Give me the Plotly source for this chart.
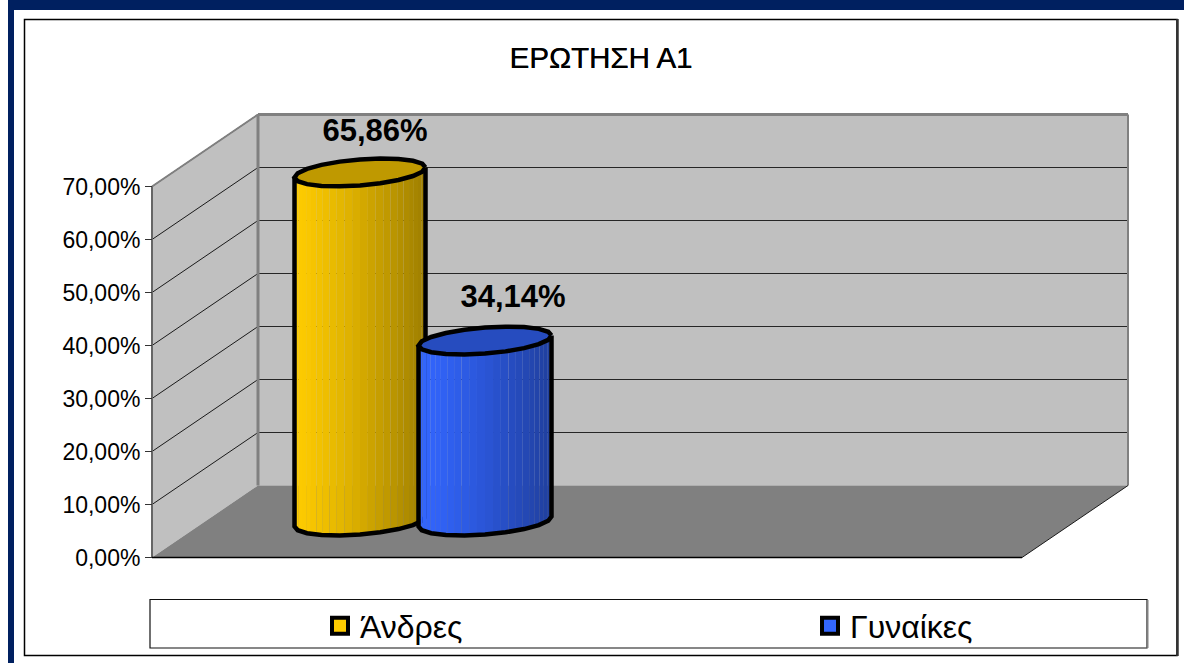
import math
import plotly.graph_objects as go

# Chart data
title_text = "ΕΡΩΤΗΣΗ Α1"
categories = ["Άνδρες", "Γυναίκες"]
shares = [65.86, 34.14]
share_labels = ["65,86%", "34,14%"]
tick_values = [0, 10, 20, 30, 40, 50, 60, 70]
tick_labels = ["0,00%", "10,00%", "20,00%", "30,00%", "40,00%", "50,00%", "60,00%", "70,00%"]

# Canvas and axis scale
W, H = 1184, 663
PX_PER_UNIT = 5.3
ZERO_PX = 557.5
y_top = ZERO_PX / PX_PER_UNIT
y_bottom = -(H - ZERO_PX) / PX_PER_UNIT

# Oblique box geometry
FRONT_LEFT, FRONT_RIGHT = 152, 1022
DEPTH_DX = 106
DEPTH_DV = 72 / PX_PER_UNIT
AXIS_MAX = tick_values[-1]

# Cylinder geometry
CENTERS = [360, 485]
SEMI_X = [65.5, 66.5]
SEMI_Y = 13 / PX_PER_UNIT
TILT = 5 / PX_PER_UNIT
MID_DEPTH = 0.5
SIDE_COLORS = [(255, 204, 0), (51, 102, 255)]
TOP_COLORS = ["#BF9900", "#264CBF"]
DARKEST = 0.62
SHADE_CURVE = 1.25
STRIPS = 26
OUTLINE_SEGMENTS = 10
LABEL_SHIFT = [(15, 39.5), (28, 41.5)]

# Legend placement, one box per entry
LEGEND_X = [320, 810]
LEGEND_KEYS = ["legend", "legend2"]

FONT = "Liberation Sans, Arial, sans-serif"


def project(x, v, depth=0.0):
    return x + DEPTH_DX * depth, v + DEPTH_DV * depth


def poly(points, fill, line_color=None, line_width=0):
    xs = [p[0] for p in points]
    ys = [p[1] for p in points]
    return go.Scatter(
        x=xs, y=ys, mode="lines", fill="toself", fillcolor=fill,
        line=dict(color=line_color or fill, width=line_width),
        hoverinfo="skip", showlegend=False,
    )


def segment(p, q, color, width):
    return go.Scatter(
        x=[p[0], q[0]], y=[p[1], q[1]], mode="lines",
        line=dict(color=color, width=width),
        hoverinfo="skip", showlegend=False,
    )


def rim(cx, cv, semi_x, t):
    return cx + semi_x * math.cos(t), cv + TILT * math.cos(t) - SEMI_Y * math.sin(t)


def px_x(x):
    return x / W


def px_y(y):
    return 1 - y / H


traces = []

# Walls and floor of the box
back = [project(FRONT_LEFT, 0, 1), project(FRONT_RIGHT, 0, 1),
        project(FRONT_RIGHT, AXIS_MAX, 1), project(FRONT_LEFT, AXIS_MAX, 1)]
side = [project(FRONT_LEFT, 0), project(FRONT_LEFT, 0, 1),
        project(FRONT_LEFT, AXIS_MAX, 1), project(FRONT_LEFT, AXIS_MAX)]
floor = [project(FRONT_LEFT, 0), project(FRONT_RIGHT, 0),
         project(FRONT_RIGHT, 0, 1), project(FRONT_LEFT, 0, 1)]
traces.append(poly(back, "#C0C0C0"))
traces.append(poly(side, "#C0C0C0"))
traces.append(poly(floor, "#808080"))

# Gridlines wrap from the side wall onto the back wall
for v in tick_values[1:]:
    traces.append(segment(project(FRONT_LEFT, v), project(FRONT_LEFT, v, 1), "#1A1A1A", 1))
    traces.append(segment(project(FRONT_LEFT, v, 1), project(FRONT_RIGHT, v, 1), "#262626", 1))

# Box edges
traces.append(segment(project(FRONT_LEFT, AXIS_MAX), project(FRONT_LEFT, AXIS_MAX, 1), "#808080", 2))
traces.append(segment(project(FRONT_LEFT, AXIS_MAX, 1.0), project(FRONT_RIGHT, AXIS_MAX, 1.0), "#808080", 3))
traces.append(segment(project(FRONT_LEFT, 0, 1), project(FRONT_LEFT, AXIS_MAX, 1), "#808080", 3))
traces.append(segment(project(FRONT_RIGHT, 0, 1), project(FRONT_RIGHT, AXIS_MAX, 1), "#808080", 2))
traces.append(segment(project(FRONT_LEFT, 0), project(FRONT_LEFT, AXIS_MAX), "#666666", 2))
traces.append(segment(project(FRONT_LEFT, 0), project(FRONT_RIGHT, 0), "#000000", 1.5))
traces.append(segment(project(FRONT_RIGHT, 0), project(FRONT_RIGHT, 0, 1), "#1A1A1A", 1))

# Cylinders, one per category, shaded left to right
for i, value in enumerate(shares):
    cx = CENTERS[i]
    sx = SEMI_X[i]
    base = project(0, 0, MID_DEPTH)[1]
    top = base + value
    steps = [math.pi * k / STRIPS for k in range(STRIPS + 1)]
    for a, b in zip(steps[:-1], steps[1:]):
        mid = (rim(cx, base, sx, a)[0] + rim(cx, base, sx, b)[0]) / 2
        k = 1 - (1 - DARKEST) * ((mid - cx + sx) / (2 * sx)) ** SHADE_CURVE
        r, g, bl = [int(c * k) for c in SIDE_COLORS[i]]
        pts = [rim(cx, base, sx, a), rim(cx, base, sx, b), rim(cx, top, sx, b), rim(cx, top, sx, a)]
        traces.append(poly(pts, f"rgb({r},{g},{bl})"))
    coarse = [math.pi * k / OUTLINE_SEGMENTS for k in range(OUTLINE_SEGMENTS + 1)]
    outline = [rim(cx, top, sx, 0)] + [rim(cx, base, sx, t) for t in coarse] + [rim(cx, top, sx, math.pi)]
    traces.append(go.Scatter(
        x=[p[0] for p in outline], y=[p[1] for p in outline], mode="lines",
        line=dict(color="#000000", width=4.5), hoverinfo="skip", showlegend=False,
    ))
    ring = [rim(cx, top, sx, math.pi * k / OUTLINE_SEGMENTS) for k in range(2 * OUTLINE_SEGMENTS + 1)]
    traces.append(poly(ring, TOP_COLORS[i], "#000000", 4.5))

# Value labels above each cylinder
for i, value in enumerate(shares):
    base = project(0, 0, MID_DEPTH)[1]
    traces.append(go.Scatter(
        x=[CENTERS[i] + LABEL_SHIFT[i][0]],
        y=[base + value + LABEL_SHIFT[i][1] / PX_PER_UNIT],
        mode="text", text=[share_labels[i]], textposition="middle center",
        textfont=dict(family=FONT, size=31, color="#000000", weight="bold"),
        hoverinfo="skip", showlegend=False,
    ))

# Legend entries
for i, name in enumerate(categories):
    traces.append(go.Scatter(
        x=[None], y=[None], mode="markers", name=name, legend=LEGEND_KEYS[i],
        marker=dict(symbol="square", size=18, color="rgb({},{},{})".format(*SIDE_COLORS[i]),
                    line=dict(color="#000000", width=4)),
    ))

# Page frame, chart border and legend box
shapes = [
    dict(type="rect", xref="paper", yref="paper", layer="above",
         x0=px_x(8), x1=px_x(14), y0=px_y(663), y1=px_y(0),
         fillcolor="#002060", line_width=0),
    dict(type="rect", xref="paper", yref="paper", layer="above",
         x0=px_x(8), x1=px_x(1184), y0=px_y(10), y1=px_y(0),
         fillcolor="#002060", line_width=0),
    dict(type="rect", xref="paper", yref="paper", layer="below",
         x0=px_x(24.5), x1=px_x(1177), y0=px_y(655.5), y1=px_y(19.5),
         fillcolor="#FFFFFF", line=dict(color="#000000", width=1.5)),
    dict(type="line", xref="paper", yref="paper", layer="below",
         x0=px_x(1177.5), x1=px_x(1177.5), y0=px_y(656), y1=px_y(19),
         line=dict(color="#333333", width=2.5)),
    dict(type="rect", xref="paper", yref="paper", layer="below",
         x0=px_x(150), x1=px_x(1147), y0=px_y(648), y1=px_y(599.5),
         fillcolor="#FFFFFF", line=dict(color="#111111", width=1.2)),
    dict(type="line", xref="paper", yref="paper", layer="below",
         x0=px_x(1147.5), x1=px_x(1147.5), y0=px_y(648), y1=px_y(600),
         line=dict(color="#808080", width=2)),
]


def legend_box(px):
    return dict(
        x=px / W, xanchor="left", y=px_y(626), yanchor="middle",
        bgcolor="rgba(0,0,0,0)", borderwidth=0,
        font=dict(family=FONT, size=32, color="#000000"),
        itemclick=False, itemdoubleclick=False,
    )


fig = go.Figure(traces)
fig.update_layout(
    width=W, height=H,
    margin=dict(l=0, r=0, t=0, b=0, autoexpand=False),
    autosize=False,
    paper_bgcolor="#FFFFFF",
    plot_bgcolor="rgba(0,0,0,0)",
    shapes=shapes,
    title=dict(
        text=title_text, x=601 / W, y=1 - 58 / H, xanchor="center", yanchor="middle",
        font=dict(family=FONT, size=29.5, color="#000000", shadow="0.3px 0 0 #000000"),
    ),
    xaxis=dict(range=[0, W], visible=False, fixedrange=True),
    yaxis=dict(
        range=[y_bottom, y_top], anchor="free", position=FRONT_LEFT / W,
        tickmode="array", tickvals=tick_values, ticktext=tick_labels,
        ticks="outside", ticklen=7, tickwidth=1, tickcolor="#333333",
        tickfont=dict(family=FONT, size=23, color="#000000"),
        showgrid=False, zeroline=False, showline=False, fixedrange=True,
    ),
    legend=legend_box(LEGEND_X[0]),
    legend2=legend_box(LEGEND_X[1]),
    showlegend=True,
)

fig.write_html("out.html", config={"displayModeBar": False})
